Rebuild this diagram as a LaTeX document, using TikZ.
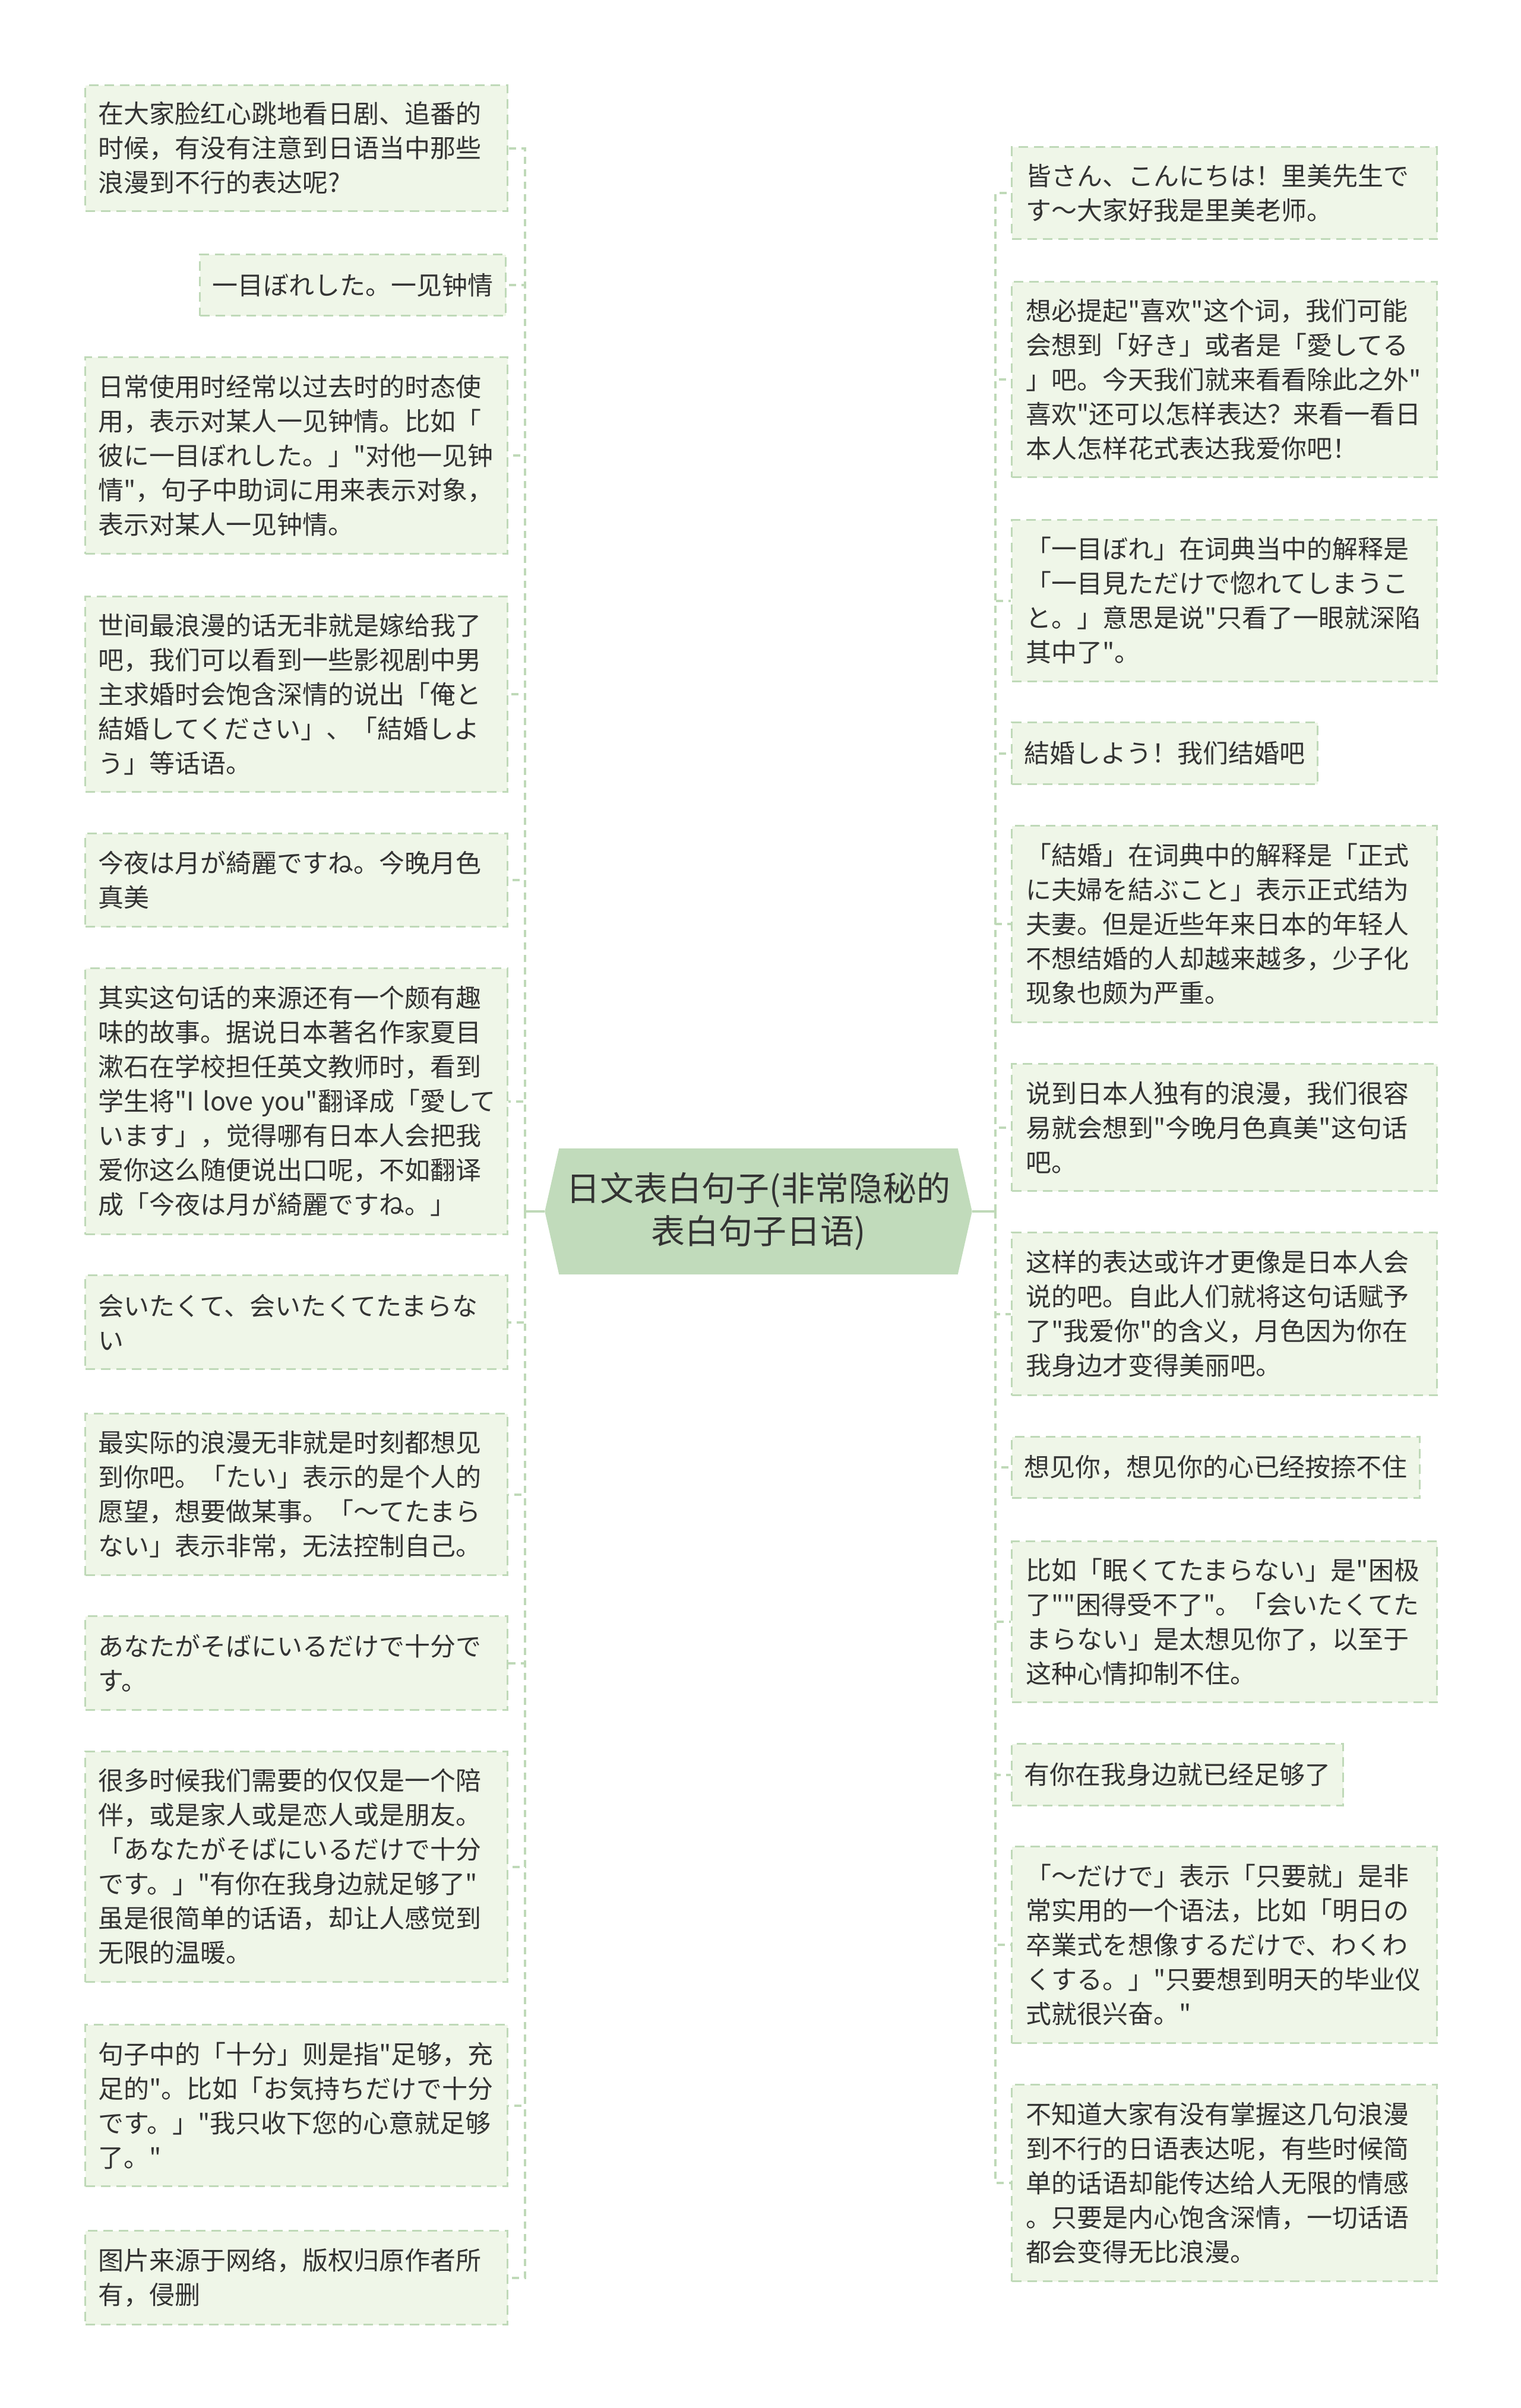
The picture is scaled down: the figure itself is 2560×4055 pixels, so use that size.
\documentclass[tikz,border=0pt]{standalone}
\usepackage{fontspec}
\newfontfamily\cjk{Noto Sans CJK SC}
\usetikzlibrary{backgrounds}
\definecolor{boxfill}{HTML}{EFF6E8}
\definecolor{lineg}{HTML}{BFD9B8}
\definecolor{rootfill}{HTML}{C1DBBB}
\definecolor{txt}{HTML}{333333}
\begin{document}
\begin{tikzpicture}[x=1pt,y=-1pt,
  basebox/.style={fill=boxfill, draw=lineg, line width=3pt, dash pattern=on 16pt off 10pt,
    text=txt, font=\cjk\fontsize{43}{58}\selectfont, inner ysep=0pt},
  lbox/.style={basebox, text width=667pt, inner xsep=22pt, align=left, anchor=north west},
  rbox/.style={basebox, text width=668pt, inner xsep=24pt, align=left, anchor=north west},
  sbox/.style={basebox, inner xsep=21pt},
  conn/.style={draw=lineg, line width=4pt, dash pattern=on 12pt off 9pt},
  rootconn/.style={draw=lineg, line width=4pt},
  rootnode/.style={text=txt, font=\cjk\fontsize{57}{72}\selectfont, align=center,
    minimum width=719pt, minimum height=212pt, inner sep=0pt}]
\useasboundingbox (0,0) rectangle (2560,4055);

% root
\node[rootnode] (root) at (1277,2040) {日文表白句子(非常隐秘的\\表白句子日语)};
\begin{scope}[on background layer]
\fill[rootfill] (root.west) -- ([xshift=24pt]root.north west) -- ([xshift=-24pt]root.north east)
  -- (root.east) -- ([xshift=-24pt]root.south east) -- ([xshift=24pt]root.south west) -- cycle;
\end{scope}

\coordinate (LS) at (884,2040);
\coordinate (RS) at (1676,2040);

% left boxes
\node[lbox, minimum height=212pt] (L1) at (142,142) {在大家脸红心跳地看日剧、追番的\\时候，有没有注意到日语当中那些\\浪漫到不行的表达呢?};
\node[sbox, minimum height=103pt, anchor=north east] (L2) at (853,427) {一目ぼれした。一见钟情};
\node[lbox, minimum height=331pt] (L3) at (142,600) {日常使用时经常以过去时的时态使\\用，表示对某人一见钟情。比如「\\彼に一目ぼれした。」"对他一见钟\\情"，句子中助词に用来表示对象，\\表示对某人一见钟情。};
\node[lbox, minimum height=329pt] (L4) at (142,1003) {世间最浪漫的话无非就是嫁给我了\\吧，我们可以看到一些影视剧中男\\主求婚时会饱含深情的说出「俺と\\結婚してください」、「結婚しよ\\う」等话语。};
\node[lbox, minimum height=157pt] (L5) at (142,1402) {今夜は月が綺麗ですね。今晚月色\\真美};
\node[lbox, minimum height=448pt] (L6) at (142,1629) {其实这句话的来源还有一个颇有趣\\味的故事。据说日本著名作家夏目\\漱石在学校担任英文教师时，看到\\学生将"I~love~you"翻译成「愛して\\います」，觉得哪有日本人会把我\\爱你这么随便说出口呢，不如翻译\\成「今夜は月が綺麗ですね。」};
\node[lbox, minimum height=158pt] (L7) at (142,2146) {会いたくて、会いたくてたまらな\\い};
\node[lbox, minimum height=272pt] (L8) at (142,2379) {最实际的浪漫无非就是时刻都想见\\到你吧。「たい」表示的是个人的\\愿望，想要做某事。「～てたまら\\ない」表示非常，无法控制自己。};
\node[lbox, minimum height=158pt] (L9) at (142,2720) {あなたがそばにいるだけで十分で\\す。};
\node[lbox, minimum height=388pt] (L10) at (142,2948) {很多时候我们需要的仅仅是一个陪\\伴，或是家人或是恋人或是朋友。\\「あなたがそばにいるだけで十分\\です。」"有你在我身边就足够了"\\虽是很简单的话语，却让人感觉到\\无限的温暖。};
\node[lbox, minimum height=272pt] (L11) at (142,3408) {句子中的「十分」则是指"足够，充\\足的"。比如「お気持ちだけで十分\\です。」"我只收下您的心意就足够\\了。"};
\node[lbox, minimum height=158pt] (L12) at (142,3755) {图片来源于网络，版权归原作者所\\有，侵删};

% right boxes
\node[rbox, minimum height=155pt] (R1) at (1702,246) {皆さん、こんにちは！里美先生で\\す～大家好我是里美老师。};
\node[rbox, minimum height=329pt] (R2) at (1702,473) {想必提起"喜欢"这个词，我们可能\\会想到「好き」或者是「愛してる\\」吧。今天我们就来看看除此之外"\\喜欢"还可以怎样表达？来看一看日\\本人怎样花式表达我爱你吧！};
\node[rbox, minimum height=272pt] (R3) at (1702,874) {「一目ぼれ」在词典当中的解释是\\「一目見ただけで惚れてしまうこ\\と。」意思是说"只看了一眼就深陷\\其中了"。};
\node[sbox, minimum height=104pt, anchor=north west] (R4) at (1702,1215) {結婚しよう！我们结婚吧};
\node[rbox, minimum height=331pt] (R5) at (1702,1389) {「結婚」在词典中的解释是「正式\\に夫婦を結ぶこと」表示正式结为\\夫妻。但是近些年来日本的年轻人\\不想结婚的人却越来越多，少子化\\现象也颇为严重。};
\node[rbox, minimum height=214pt] (R6) at (1702,1790) {说到日本人独有的浪漫，我们很容\\易就会想到"今晚月色真美"这句话\\吧。};
\node[rbox, minimum height=274pt] (R7) at (1702,2074) {这样的表达或许才更像是日本人会\\说的吧。自此人们就将这句话赋予\\了"我爱你"的含义，月色因为你在\\我身边才变得美丽吧。};
\node[sbox, minimum height=103pt, anchor=north west] (R8) at (1702,2418) {想见你，想见你的心已经按捺不住};
\node[rbox, minimum height=271pt] (R9) at (1702,2594) {比如「眠くてたまらない」是"困极\\了""困得受不了"。「会いたくてた\\まらない」是太想见你了，以至于\\这种心情抑制不住。};
\node[sbox, minimum height=104pt, anchor=north west] (R10) at (1702,2935) {有你在我身边就已经足够了};
\node[rbox, minimum height=331pt] (R11) at (1702,3108) {「～だけで」表示「只要就」是非\\常实用的一个语法，比如「明日の\\卒業式を想像するだけで、わくわ\\くする。」"只要想到明天的毕业仪\\式就很兴奋。"};
\node[rbox, minimum height=331pt] (R12) at (1702,3509) {不知道大家有没有掌握这几句浪漫\\到不行的日语表达呢，有些时候简\\单的话语却能传达给人无限的情感\\。只要是内心饱含深情，一切话语\\都会变得无比浪漫。};

% connectors
\begin{scope}[on background layer]
\draw[rootconn] (root.west) -- (LS);
\draw[rootconn] (root.east) -- (RS);
\foreach \n in {L1,L2,L3,L4,L5,L6,L7,L8,L9,L10,L11,L12}
  \draw[conn] (LS) |- (\n.east);
\foreach \n in {R1,R2,R3,R4,R5,R6,R7,R8,R9,R10,R11,R12}
  \draw[conn] (RS) |- (\n.west);
\end{scope}
\end{tikzpicture}
\end{document}
